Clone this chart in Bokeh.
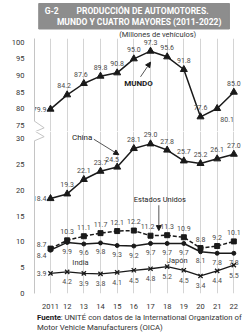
from bokeh.plotting import figure
from bokeh.layouts import column
from bokeh.models import ColumnDataSource, FixedTicker, Arrow, NormalHead, Range1d, Grid
from bokeh.core.properties import value
from bokeh.embed import file_html
from bokeh.resources import INLINE

# ---------------- data ----------------
years = [2011, 2012, 2013, 2014, 2015, 2016, 2017, 2018, 2019, 2020, 2021, 2022]
year_labels = ["2011", "12", "13", "14", "15", "16", "17", "18", "19", "20", "21", "22"]
mundo = [79.9, 84.2, 87.6, 89.8, 90.8, 95.0, 97.3, 95.6, 91.8, 77.6, 80.1, 85.0]
china = [18.4, 19.3, 22.1, 23.7, 24.5, 28.1, 29.0, 27.8, 25.7, 25.2, 26.1, 27.0]
eeuu = [8.7, 10.3, 11.1, 11.7, 12.1, 12.2, 11.2, 11.3, 10.9, 8.8, 9.2, 10.1]
japon = [8.4, 9.9, 9.6, 9.8, 9.3, 9.2, 9.7, 9.7, 9.7, 8.1, 7.8, 7.8]
india = [3.9, 4.2, 3.9, 3.8, 4.1, 4.5, 4.8, 5.2, 4.5, 3.4, 4.4, 5.5]
top_ticks = [75, 80, 85, 90, 95, 100]
bottom_ticks = [0, 5, 10, 15, 20, 25, 30]

title_1 = "PRODUCCIÓN DE AUTOMOTORES."
title_2 = "MUNDO Y CUATRO MAYORES (2011-2022)"
subtitle = "(Millones de vehículos)"
source_bold = "Fuente"
source_1 = ": UNITÉ con datos de la International Organization of"
source_2 = "Motor Vehicle Manufacturers (OICA)"

FONT = "Roboto"
F = value(FONT)
INK = "#1a1a1a"
LBL = "#4a4a4a"
GRID = "#d4d4d4"

xr = Range1d(2010.04, 2022.7)


def base(height, yr, bottom_axis=False, mb=0):
    p = figure(width=250, height=height, x_range=xr, y_range=yr,
               min_border_left=34, min_border_right=5, min_border_top=0,
               min_border_bottom=mb, toolbar_location=None, output_backend="svg",
               x_axis_location="below" if bottom_axis else None)
    p.outline_line_color = None
    p.grid.visible = False
    p.add_layout(Grid(dimension=0, ticker=FixedTicker(ticks=years),
                      grid_line_color=GRID, grid_line_width=1))
    ax = p.yaxis[0]
    ax.major_tick_line_color = None
    ax.minor_tick_line_color = None
    ax.axis_line_color = "#c4c4c4"
    ax.major_label_text_font = FONT
    ax.major_label_text_font_size = "7.5px"
    ax.major_label_text_color = "#333333"
    ax.major_label_standoff = 4
    return p


def labels(p, xs, ys, idx, dx, dy, align="center", color=LBL, size="7px"):
    src = ColumnDataSource(dict(x=[xs[i] for i in idx], y=[ys[i] for i in idx],
                                t=[f"{ys[i]:.1f}" for i in idx]))
    p.text("x", "y", text="t", source=src, x_offset=dx, y_offset=dy,
           text_align=align, text_baseline="middle", text_font=F,
           text_font_size=size, text_color=color)


# ---------------- banner ----------------
ban = figure(width=250, height=38, x_range=Range1d(0, 250), y_range=Range1d(38, 0),
             min_border=0, toolbar_location=None, output_backend="svg",
             x_axis_location=None, y_axis_location=None)
ban.outline_line_color = None
ban.grid.visible = False
ban.quad(left=5, right=231, top=3, bottom=28.5, color="#8d8d8d")
ban.text(x=[12], y=[10.5], text=["G-2"], text_font=F, text_font_size="8.5px",
         text_color="white", text_baseline="middle", text_font_style="bold")
ban.text(x=[128, 124], y=[10.5, 21.5], text=[title_1, title_2], text_font=F,
         text_font_size="8.5px", text_color="white", text_baseline="middle",
         text_align="center", text_font_style="bold")
ban.text(x=[146], y=[33.5], text=[subtitle], text_font=F, text_font_size="7.5px",
         text_color="#333333", text_baseline="middle", text_align="center")

# ---------------- top panel (MUNDO) ----------------
top = base(93, Range1d(73.2, 101.1))
top.yaxis[0].ticker = FixedTicker(ticks=top_ticks)
top.yaxis[0].bounds = (76.3, 101.1)
top.line(x=[2010.04, 2010.62, 2010.1], y=[76.3, 74.3, 73.2], line_color="#c4c4c4", line_width=1)
top.line(years, mundo, line_color=INK, line_width=1.5)
top.scatter(years, mundo, marker="triangle", size=7, color=INK)
labels(top, years, mundo, [0], -4, 0, "right")
labels(top, years, mundo, [1, 2], -3, -9)
labels(top, years, mundo, [3, 4, 5, 6, 7, 8, 9, 11], 0, -9)
labels(top, years, mundo, [10], 10, 11)
top.text(x=[2016.28], y=[87.5], text=["MUNDO"], text_font=F, text_font_size="8px",
         text_font_style="bold", text_color=INK, text_align="center", text_baseline="middle")
top.add_layout(Arrow(end=NormalHead(size=5, fill_color=INK, line_color=INK),
                     x_start=2016.4, y_start=89.6, x_end=2017.0, y_end=94.0,
                     line_color="#555555", line_width=1))

# ---------------- bottom panel ----------------
bot = base(180, Range1d(0, 31.4), bottom_axis=True, mb=14)
bot.yaxis[0].ticker = FixedTicker(ticks=bottom_ticks)
bot.yaxis[0].bounds = (0, 29.6)
bot.line(x=[2010.1, 2010.62, 2010.04], y=[31.4, 30.4, 29.6], line_color="#c4c4c4", line_width=1)
xa = bot.xaxis[0]
xa.ticker = FixedTicker(ticks=years)
xa.major_label_overrides = {y: l for y, l in zip(years, year_labels)}
xa.axis_line_color = None
xa.major_tick_line_color = None
xa.minor_tick_line_color = None
xa.major_label_text_font = FONT
xa.major_label_text_font_size = "7.5px"
xa.major_label_text_color = "#333333"
xa.major_label_standoff = 4

# China
bot.line(years, china, line_color=INK, line_width=1.5)
bot.scatter(years, china, marker="triangle", size=7, color=INK)
labels(bot, years, china, [0], -4, 0, "right")
labels(bot, years, china, [1, 2, 3, 5, 6, 7, 8, 9, 10, 11], 0, -9)
labels(bot, years, china, [4], -5, -8)
# Estados Unidos
bot.line(years, eeuu, line_color=INK, line_width=1.5, line_dash="4 2")
bot.scatter(years, eeuu, marker="square", size=5, color=INK)
labels(bot, years, eeuu, [0], -4, -4, "right")
labels(bot, years, eeuu, [1, 2, 3, 4, 5, 7, 8, 9, 10, 11], 0, -9)
labels(bot, years, eeuu, [6], -3, -9)
# Japón
bot.line(years, japon, line_color=INK, line_width=1.5)
bot.scatter(years, japon, marker="circle", size=4, color=INK)
labels(bot, years, japon, [0], -4, 5, "right")
labels(bot, years, japon, list(range(1, 12)), 0, 9)
# India
bot.line(years, india, line_color=INK, line_width=1.3)
bot.scatter(years, india, marker="x", size=6, color=INK, line_width=1.3)
labels(bot, years, india, [0], -4, 0, "right")
labels(bot, years, india, list(range(1, 12)), 0, 10)

bot.text(x=[2012.9], y=[30.3], text=["China"], text_font=F, text_font_size="8px",
         text_color=INK, text_align="center", text_baseline="middle")
bot.add_layout(Arrow(end=NormalHead(size=5, fill_color=INK, line_color=INK),
                     x_start=2013.6, y_start=29.9, x_end=2015.1, y_end=26.9,
                     line_color="#555555", line_width=1))
bot.text(x=[2017.56], y=[18.2], text=["Estados Unidos"], text_font=F, text_font_size="7.5px",
         text_color=INK, text_align="center", text_baseline="middle")
bot.add_layout(Arrow(end=NormalHead(size=5, fill_color=INK, line_color=INK),
                     x_start=2017.5, y_start=17.1, x_end=2017.5, y_end=12.2,
                     line_color="#555555", line_width=1))
bot.text(x=[2012.8, 2018.6], y=[6.0, 6.3], text=["India", "Japón"], text_font=F,
         text_font_size="7.5px", text_color="#333333", text_align="center",
         text_baseline="middle")

# ---------------- source ----------------
src_fig = figure(width=250, height=23, x_range=Range1d(0, 250), y_range=Range1d(23, 0),
                 min_border=0, toolbar_location=None, output_backend="svg",
                 x_axis_location=None, y_axis_location=None)
src_fig.outline_line_color = None
src_fig.grid.visible = False
src_fig.text(x=[3], y=[5.5], text=[source_bold], text_font=F, text_font_size="7.8px",
             text_font_style="bold", text_color=INK, text_baseline="middle")
src_fig.text(x=[31, 3], y=[5.5, 15.5], text=[source_1, source_2], text_font=F,
             text_font_size="7.8px", text_color="#333333", text_baseline="middle")

layout = column(ban, top, bot, src_fig, spacing=0)
open("out.html", "w").write(file_html(layout, INLINE))
